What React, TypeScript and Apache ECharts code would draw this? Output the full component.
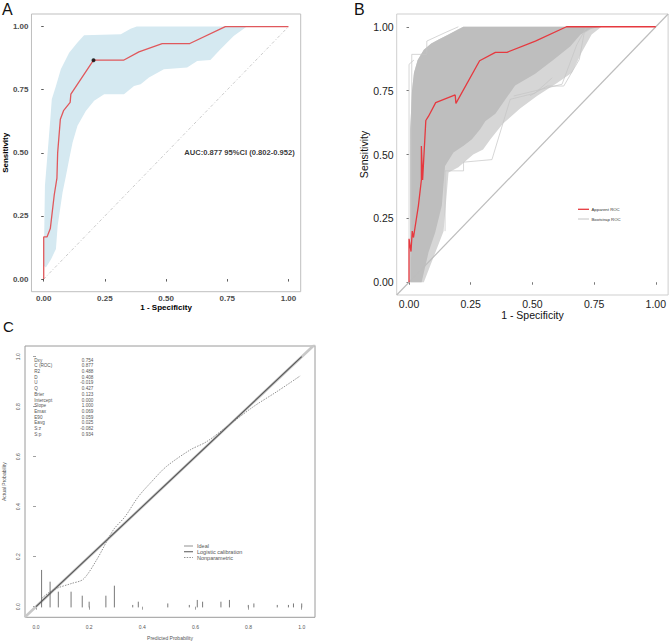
import { useEffect, useRef } from "react";
import * as echarts from "echarts";

// ---------- Panel A: ROC with 95% CI band ----------
const rocAX = [0, 0, 0.0134, 0.027, 0.043, 0.054, 0.057, 0.068, 0.081, 0.108, 0.111, 0.2035, 0.326, 0.389, 0.484, 0.597, 0.742, 1];
const rocAY = [0, 0.167, 0.167, 0.2, 0.333, 0.4, 0.5, 0.633, 0.667, 0.7, 0.733, 0.867, 0.867, 0.9, 0.933, 0.933, 1, 1];
const bandUpX = [0, 0.003, 0.005, 0.016, 0.027, 0.033, 0.05, 0.07, 0.104, 0.138, 0.165, 0.315, 0.355, 0.38, 0.83];
const bandUpY = [0.053, 0.237, 0.37, 0.5, 0.633, 0.712, 0.765, 0.831, 0.897, 0.937, 0.966, 0.97, 0.992, 1, 1];
const bandLoX = [0.009, 0.03, 0.05, 0.057, 0.077, 0.091, 0.104, 0.118, 0.138, 0.172, 0.206, 0.247, 0.328, 0.369, 0.396, 0.43, 0.491, 0.586, 0.627, 0.681, 0.722, 0.776, 0.83];
const bandLoY = [0.046, 0.079, 0.119, 0.211, 0.343, 0.409, 0.475, 0.541, 0.607, 0.666, 0.706, 0.732, 0.732, 0.765, 0.772, 0.798, 0.831, 0.838, 0.864, 0.868, 0.91, 0.963, 1];
const bestPoint = [0.2035, 0.867];
const aucText = "AUC:0.877 95%CI (0.802-0.952)";
const aucPos = [0.8, 0.5];
const rocTicks = [0, 0.25, 0.5, 0.75, 1];

// ---------- Panel B: apparent vs bootstrap ROC ----------
const rocBX = [0, 0, 0.008, 0.013, 0.018, 0.038, 0.05, 0.05, 0.055, 0.068, 0.079, 0.108, 0.187, 0.19, 0.286, 0.35, 0.397, 0.512, 0.638, 1];
const rocBY = [0, 0.17, 0.12, 0.2, 0.175, 0.3, 0.4, 0.533, 0.4, 0.633, 0.65, 0.703, 0.733, 0.7, 0.867, 0.9, 0.9, 0.944, 1, 1];
// envelope of the dense bootstrap curves
const bootUpX = [0.005, 0.005, 0.012, 0.02, 0.035, 0.06, 0.09, 0.12, 0.16, 0.2, 0.22, 0.78];
const bootUpY = [0, 0.6, 0.75, 0.82, 0.87, 0.91, 0.935, 0.95, 0.97, 0.99, 1, 1];
const bootLoX = [0.051, 0.079, 0.106, 0.133, 0.146, 0.18, 0.221, 0.255, 0.289, 0.309, 0.35, 0.43, 0.51, 0.587, 0.654, 0.695, 0.736, 0.78];
const bootLoY = [0, 0.117, 0.195, 0.3, 0.455, 0.508, 0.534, 0.56, 0.6, 0.63, 0.66, 0.77, 0.815, 0.872, 0.924, 0.97, 0.992, 1];
// sparse fringe below the dense envelope
const fringeLoX = [0.06, 0.1, 0.14, 0.16, 0.2, 0.26, 0.3, 0.33, 0.38, 0.45, 0.52, 0.6, 0.66, 0.7, 0.74, 0.78];
const fringeLoY = [0, 0.1, 0.2, 0.43, 0.45, 0.5, 0.52, 0.56, 0.62, 0.68, 0.73, 0.78, 0.82, 0.9, 0.97, 1];
// a few distinguishable outlying bootstrap curves
const outlierCurves = [
  [[0, 0], [0, 0.853], [0.02, 0.87]],
  [[0.011, 0.1], [0.011, 0.892], [0.072, 0.892], [0.072, 0.944], [0.146, 0.977], [0.2, 1]],
  [[0.146, 0.2], [0.146, 0.436], [0.221, 0.436], [0.221, 0.47], [0.336, 0.48], [0.41, 0.716], [0.51, 0.74], [0.58, 0.8]],
  [[0.49, 0.73], [0.56, 0.768], [0.627, 0.768], [0.69, 0.872], [0.71, 0.977], [0.75, 1]],
  [[0.424, 0.729], [0.62, 0.775], [0.68, 0.93], [0.72, 1]],
];
const legendB = ["Apparent ROC", "Bootstrap ROC"];

// ---------- Panel C: calibration ----------
const npX = [0.021, 0.053, 0.084, 0.134, 0.178, 0.228, 0.291, 0.335, 0.385, 0.435, 0.49, 0.58, 0.642, 0.718, 0.818, 0.906, 0.994];
const npY = [0.033, 0.06, 0.076, 0.093, 0.11, 0.187, 0.307, 0.36, 0.44, 0.5, 0.56, 0.627, 0.66, 0.72, 0.8, 0.86, 0.923];
const spikeX = [0.021, 0.053, 0.084, 0.132, 0.174, 0.2, 0.263, 0.295, 0.364, 0.385, 0.496, 0.577, 0.607, 0.627, 0.696, 0.728, 0.799, 0.82, 0.908, 0.95, 0.969, 1.0];
const spikeH = [0.147, 0.1, 0.06, 0.06, 0.044, 0.02, 0.044, 0.084, 0.007, 0.02, 0.013, 0.007, 0.027, 0.02, 0.02, 0.027, 0.007, 0.013, 0.007, 0.007, 0.013, 0.013];
const statNames = ["Dxy", "C (ROC)", "R2", "D", "U", "Q", "Brier", "Intercept", "Slope", "Emax", "E90", "Eavg", "S:z", "S:p"];
const statValues = ["0.754", "0.877", "0.488", "0.408", "-0.019", "0.427", "0.123", "0.000", "1.000", "0.069", "0.059", "0.025", "-0.082", "0.934"];
const calTicks = [0, 0.2, 0.4, 0.6, 0.8, 1.0];
const legendC = ["Ideal", "Logistic calibration", "Nonparametric"];

const FONT = "'Liberation Sans', Arial, Helvetica, sans-serif";
const zip = (xs: number[], ys: number[]) => xs.map((x, i) => [x, ys[i]]);

function polygonSeries(xi: number, pts: number[][], color: string, z: number) {
  return {
    type: "custom",
    xAxisIndex: xi,
    yAxisIndex: xi,
    silent: true,
    z,
    data: [[0.5, 0.5]],
    renderItem: (_p: any, api: any) => ({
      type: "polygon",
      shape: { points: pts.map((p) => api.coord(p)) },
      style: { fill: color },
    }),
  };
}

export default function App() {
  const ref = useRef<HTMLDivElement>(null);
  useEffect(() => {
    const chart = echarts.init(ref.current!, null, { renderer: "svg" });

    const bandPoly = [...zip(bandUpX, bandUpY), ...zip(bandLoX, bandLoY).reverse()];
    const bootPoly = [...zip(bootUpX, bootUpY), ...zip(bootLoX, bootLoY).reverse()];
    const fringePoly = [...zip(bootUpX, bootUpY), ...zip(fringeLoX, fringeLoY).reverse()];

    const rocAxisA = (isX: boolean) => ({
      type: "value",
      gridIndex: 0,
      min: -0.05,
      max: 1.05,
      splitLine: { show: false },
      axisLine: { show: false },
      axisTick: { show: true, length: 2.5, customValues: rocTicks, lineStyle: { color: "#333", width: 0.8 } },
      axisLabel: {
        customValues: rocTicks,
        formatter: (v: number) => v.toFixed(2),
        fontSize: 8,
        fontWeight: "bold",
        color: "#4d4d4d",
        fontFamily: FONT,
        margin: isX ? 2.5 : 3,
      },
      name: isX ? "1 - Specificity" : "Sensitivity",
      nameLocation: "middle",
      nameGap: isX ? 10 : 20.5,
      nameTextStyle: { fontSize: 8, fontWeight: "bold", color: "#000", fontFamily: FONT },
    });
    const rocAxisB = (isX: boolean) => ({
      type: "value",
      gridIndex: 1,
      min: -0.05,
      max: 1.05,
      splitLine: { show: false },
      axisLine: { show: false },
      axisTick: { show: true, length: 2.5, customValues: rocTicks, lineStyle: { color: "#555", width: 0.8 } },
      axisLabel: {
        customValues: rocTicks,
        formatter: (v: number) => v.toFixed(2),
        fontSize: 10.5,
        color: "#222",
        fontFamily: FONT,
        margin: 3,
      },
      name: isX ? "1 - Specificity" : "Sensitivity",
      nameLocation: "middle",
      nameGap: isX ? 13.5 : 24.5,
      nameTextStyle: { fontSize: 10.5, color: "#111", fontFamily: FONT },
    });
    const calAxis = (isX: boolean) => ({
      type: "value",
      gridIndex: 2,
      min: isX ? -0.0414 : -0.0424,
      max: isX ? 1.05 : 1.0428,
      splitLine: { show: false },
      axisLine: { show: false },
      axisTick: { show: true, length: 3, customValues: calTicks, lineStyle: { color: "#777", width: 0.7 } },
      axisLabel: isX
        ? {
            customValues: calTicks,
            formatter: (v: number) => v.toFixed(1),
            fontSize: 5,
            color: "#555",
            fontFamily: FONT,
            margin: 7,
          }
        : {
            customValues: calTicks,
            formatter: (v: number) => v.toFixed(1),
            fontSize: 5,
            color: "#555",
            fontFamily: FONT,
            margin: 4.5,
            rotate: 90,
            align: "center",
            verticalAlign: "bottom",
          },
      name: isX ? "Predicted Probability" : "Actual Probability",
      nameLocation: "middle",
      nameGap: isX ? 18 : 18.5,
      nameTextStyle: { fontSize: 5, color: "#555", fontFamily: FONT },
    });

    const graphics: any[] = [
      { type: "text", x: 2, y: 9.8, style: { text: "A", fontSize: 16, fontFamily: FONT, fill: "#111", verticalAlign: "middle" } },
      { type: "text", x: 354, y: 9.5, style: { text: "B", fontSize: 16, fontFamily: FONT, fill: "#111", verticalAlign: "middle" } },
      { type: "text", x: 3, y: 326, style: { text: "C", fontSize: 15, fontFamily: FONT, fill: "#111", verticalAlign: "middle" } },
    ];
    statNames.forEach((n, i) => {
      const y = 360 + i * 5.72;
      graphics.push({ type: "text", x: 34.3, y, silent: true, style: { text: n, fontSize: 4.6, fontFamily: FONT, fill: "#555", verticalAlign: "middle" } });
      graphics.push({ type: "text", x: 93.3, y, silent: true, style: { text: statValues[i], fontSize: 4.6, fontFamily: FONT, fill: "#555", align: "right", verticalAlign: "middle" } });
    });
    // legend of panel B
    const legBStyles = [
      { stroke: "#e6393f", lineWidth: 1.3 },
      { stroke: "#c4c4c4", lineWidth: 1 },
    ];
    legendB.forEach((t, i) => {
      const y = 209.3 + i * 9.7;
      graphics.push({ type: "line", silent: true, shape: { x1: 578, y1: y, x2: 589, y2: y }, style: legBStyles[i] });
      graphics.push({ type: "text", x: 591.5, y, silent: true, style: { text: t, fontSize: 4.3, fontFamily: FONT, fill: "#333", verticalAlign: "middle" } });
    });
    // legend of panel C
    const legCStyles = [
      { stroke: "#c8c8c8", lineWidth: 2 },
      { stroke: "#555", lineWidth: 1 },
      { stroke: "#777", lineWidth: 0.8, lineDash: [1.5, 1.2] },
    ];
    legendC.forEach((t, i) => {
      const y = 546 + i * 5.75;
      graphics.push({ type: "line", silent: true, shape: { x1: 184, y1: y, x2: 193, y2: y }, style: legCStyles[i] });
      graphics.push({ type: "text", x: 197, y, silent: true, style: { text: t, fontSize: 5.5, fontFamily: FONT, fill: "#555", verticalAlign: "middle" } });
    });

    const option: any = {
      animation: false,
      backgroundColor: "#fff",
      textStyle: { fontFamily: FONT },
      grid: [
        { left: 30.7, top: 14, width: 270, height: 277.7, show: true, borderColor: "#bfbfbf", borderWidth: 1, backgroundColor: "transparent" },
        { left: 396.7, top: 14, width: 271.6, height: 281, show: true, borderColor: "#cfcfcf", borderWidth: 1, backgroundColor: "transparent" },
        { left: 25, top: 346, width: 290, height: 271.3, show: true, borderColor: "#9a9a9a", borderWidth: 1, backgroundColor: "transparent" },
      ],
      xAxis: [rocAxisA(true), rocAxisB(true), calAxis(true)],
      yAxis: [rocAxisA(false), rocAxisB(false), calAxis(false)],
      graphic: graphics,
      series: [
        // ----- A -----
        polygonSeries(0, bandPoly, "#d5e9f1", 1),
        {
          type: "line", xAxisIndex: 0, yAxisIndex: 0, silent: true, z: 2,
          data: [[0, 0], [1, 1]], symbol: "none",
          lineStyle: { color: "#bdbdbd", width: 0.8, type: [3, 2, 1, 2] },
        },
        {
          type: "line", xAxisIndex: 0, yAxisIndex: 0, z: 3, name: "ROC",
          data: zip(rocAX, rocAY), symbol: "none",
          lineStyle: { color: "#e0585c", width: 1.3 },
        },
        {
          type: "scatter", xAxisIndex: 0, yAxisIndex: 0, z: 4,
          data: [bestPoint], symbolSize: 4, itemStyle: { color: "#000" },
        },
        {
          type: "scatter", xAxisIndex: 0, yAxisIndex: 0, z: 4, silent: true,
          data: [aucPos], symbolSize: 0,
          label: { show: true, position: "inside", formatter: aucText, fontSize: 7.6, fontWeight: "bold", color: "#000", fontFamily: FONT },
        },
        // ----- B -----
        polygonSeries(1, fringePoly, "#d6d6d6", 1),
        polygonSeries(1, bootPoly, "#bebebe", 2),
        ...outlierCurves.map((c) => ({
          type: "line", xAxisIndex: 1, yAxisIndex: 1, z: 2, name: "Bootstrap ROC",
          data: c, symbol: "none",
          lineStyle: { color: "#c4c4c4", width: 0.7 },
        })),
        {
          type: "line", xAxisIndex: 1, yAxisIndex: 1, silent: true, z: 2,
          data: [[-0.05, -0.05], [1.05, 1.05]], symbol: "none",
          lineStyle: { color: "#bdbdbd", width: 1.2 },
        },
        {
          type: "line", xAxisIndex: 1, yAxisIndex: 1, z: 4, name: "Apparent ROC",
          data: zip(rocBX, rocBY), symbol: "none",
          lineStyle: { color: "#e6393f", width: 1.3 },
        },
        // ----- C -----
        {
          type: "line", xAxisIndex: 2, yAxisIndex: 2, z: 2, name: "Ideal",
          data: [[-0.0424, -0.0424], [1.05, 1.05]], symbol: "none",
          lineStyle: { color: "#c8c8c8", width: 2.6 },
        },
        {
          type: "line", xAxisIndex: 2, yAxisIndex: 2, z: 3, name: "Logistic calibration",
          data: [[0, 0], [1, 1]], symbol: "none",
          lineStyle: { color: "#555", width: 1.1 },
        },
        {
          type: "line", xAxisIndex: 2, yAxisIndex: 2, z: 3, name: "Nonparametric",
          data: zip(npX, npY), symbol: "none", smooth: 0.3,
          lineStyle: { color: "#777", width: 0.8, type: [1.5, 1.2] },
        },
        {
          type: "custom", xAxisIndex: 2, yAxisIndex: 2, z: 3, silent: true,
          data: zip(spikeX, spikeH),
          renderItem: (_p: any, api: any) => {
            const p0 = api.coord([api.value(0), 0]);
            const p1 = api.coord([api.value(0), api.value(1)]);
            return {
              type: "line",
              shape: { x1: p0[0], y1: p0[1] + 0.7, x2: p1[0], y2: p1[1] },
              style: { stroke: "#6a6a6a", lineWidth: 0.9 },
            };
          },
        },
      ],
    };
    chart.setOption(option);
    return () => chart.dispose();
  }, []);
  return (
    <div
      ref={ref}
      style={{ position: "absolute", left: 0, top: 0, width: 669, height: 643, background: "#fff" }}
    />
  );
}
